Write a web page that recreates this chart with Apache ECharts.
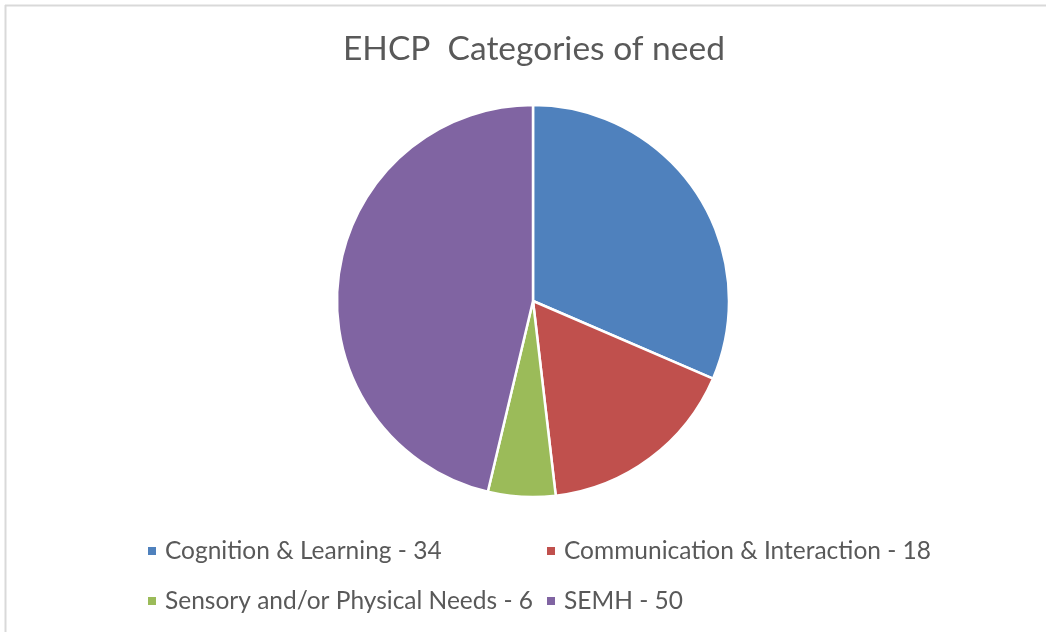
<!DOCTYPE html>
<html>
<head>
<meta charset="utf-8">
<script src="https://cdn.jsdelivr.net/npm/echarts@6/dist/echarts.min.js"></script>
<style>
  html, body { margin: 0; padding: 0; background: #fff; }
  #chart { width: 1046px; height: 632px; }
</style>
</head>
<body>
<div id="chart"></div>
<script>
// Categories of need and the number of EHCPs in each
const categories = [
  'Cognition & Learning',
  'Communication & Interaction',
  'Sensory and/or Physical Needs',
  'SEMH'
];
const counts = [34, 18, 6, 50];
const colors = ['#4F81BD', '#C0504D', '#9BBB59', '#8064A2'];
const titleText = 'EHCP  Categories of need';

const chart = echarts.init(document.getElementById('chart'));
const valueOf = Object.fromEntries(categories.map((c, i) => [c, counts[i]]));
const FONT = 'Lato, "Open Sans", sans-serif';

const legendBase = {
  orient: 'vertical',
  top: 533,
  padding: 5,
  itemWidth: 10,
  itemHeight: 10,
  itemGap: 24,
  icon: 'rect',
  textStyle: { color: '#595959', fontSize: 24.5, lineHeight: 26, fontFamily: FONT, padding: [0, 0, 0, 3] },
  formatter: name => name + ' - ' + valueOf[name]
};

chart.setOption({
  animation: false,
  color: colors,
  title: {
    text: titleText,
    left: 338,
    top: 27,
    textStyle: { color: '#595959', fontSize: 33.5, fontWeight: 'normal', fontFamily: FONT }
  },
  legend: [
    Object.assign({}, legendBase, { left: 141, data: [categories[0], categories[2]] }),
    Object.assign({}, legendBase, { left: 540, data: [categories[1], categories[3]] })
  ],
  graphic: [
    { type: 'line', shape: { x1: 5, y1: 5.5, x2: 1046, y2: 5.5 }, style: { stroke: '#d9d9d9', lineWidth: 2 } },
    { type: 'line', shape: { x1: 5.5, y1: 5, x2: 5.5, y2: 632 }, style: { stroke: '#d9d9d9', lineWidth: 2 } }
  ],
  series: [{
    type: 'pie',
    center: [533, 301],
    radius: 196,
    startAngle: 90,
    clockwise: true,
    label: { show: false },
    labelLine: { show: false },
    emphasis: { disabled: true },
    itemStyle: { borderColor: '#ffffff', borderWidth: 2.5 },
    data: categories.map((c, i) => ({ name: c, value: counts[i] }))
  }]
});
</script>
</body>
</html>
